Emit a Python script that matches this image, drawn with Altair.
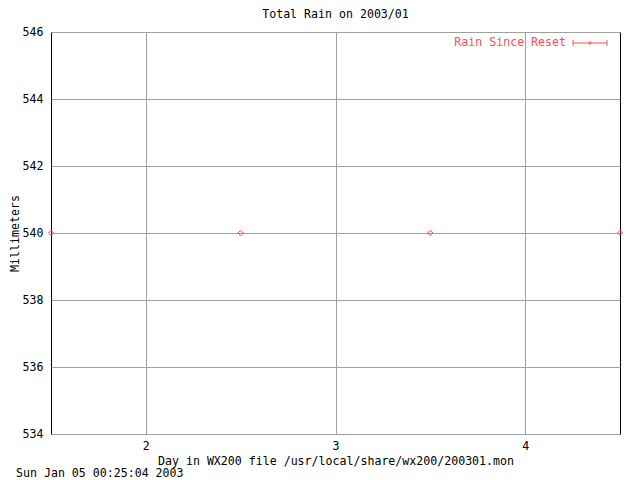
import altair as alt
import pandas as pd

days = [1.5, 2.5, 3.5, 4.5]
rain_mm = [540, 540, 540, 540]
series_name = "Rain Since Reset"
x_ticks = [2, 3, 4]
y_ticks = [534, 536, 538, 540, 542, 544, 546]
timestamp = "Sun Jan 05 00:25:04 2003"

RED = "#ff4d4d"
FONT = "DejaVu Sans Mono"
FS = 11.6

df = pd.DataFrame({"day": days, "mm": rain_mm})

base = alt.Chart(df)

points = base.mark_point(shape="diamond", size=28, filled=False, color=RED, strokeWidth=1, opacity=1).encode(
    x=alt.X("day:Q", scale=alt.Scale(domain=[1.5, 4.5], nice=False, zero=False),
            axis=alt.Axis(values=x_ticks, title="Day in WX200 file /usr/local/share/wx200/200301.mon",
                          titleY=27, titleBaseline="middle", labelPadding=6)),
    y=alt.Y("mm:Q", scale=alt.Scale(domain=[534, 546], nice=False, zero=False),
            axis=alt.Axis(values=y_ticks, title="Millimeters", titleX=-36, titleY=201,
                          titleBaseline="middle", labelPadding=8)),
)

leg = pd.DataFrame({"name": [series_name]})
leg_text = alt.Chart(leg).mark_text(align="right", baseline="middle", color=RED, font=FONT, fontSize=FS).encode(
    text="name:N", x=alt.value(515), y=alt.value(11))
leg_line = alt.Chart(leg).mark_rule(color=RED, strokeWidth=1).encode(
    x=alt.value(522), x2=alt.value(556), y=alt.value(11))
leg_tick1 = alt.Chart(leg).mark_rule(color=RED, strokeWidth=1).encode(
    x=alt.value(522), y=alt.value(8), y2=alt.value(14))
leg_tick2 = alt.Chart(leg).mark_rule(color=RED, strokeWidth=1).encode(
    x=alt.value(556), y=alt.value(8), y2=alt.value(14))
leg_pt = alt.Chart(leg).mark_point(shape="diamond", size=10, filled=False, color=RED, strokeWidth=1, opacity=1).encode(
    x=alt.value(539), y=alt.value(11))

ts = pd.DataFrame({"t": [timestamp]})
ts_text = alt.Chart(ts).mark_text(align="left", baseline="middle", color="black", font=FONT, fontSize=FS).encode(
    text="t:N", x=alt.value(-35), y=alt.value(442))

chart = alt.layer(points, leg_line, leg_tick1, leg_tick2, leg_pt, leg_text, ts_text).properties(
    width=569, height=402,
    background="white",
    title=alt.TitleParams("Total Rain on 2003/01", font=FONT, fontSize=FS, fontWeight="normal",
                          anchor="middle", offset=5, color="black"),
    autosize=alt.AutoSizeParams(type="none"),
    padding={"left": 43, "top": 24, "right": 12, "bottom": 50},
).configure_view(stroke="black", strokeWidth=1).configure_axis(
    labelFont=FONT, titleFont=FONT, labelFontSize=FS, titleFontSize=FS,
    titleFontWeight="normal", labelColor="black", titleColor="black",
    grid=True, gridColor="#a0a0a0", gridWidth=1, gridOpacity=1, ticks=False, domain=False,
)

chart.save("out.html", embed_options={"renderer": "svg", "actions": False})
